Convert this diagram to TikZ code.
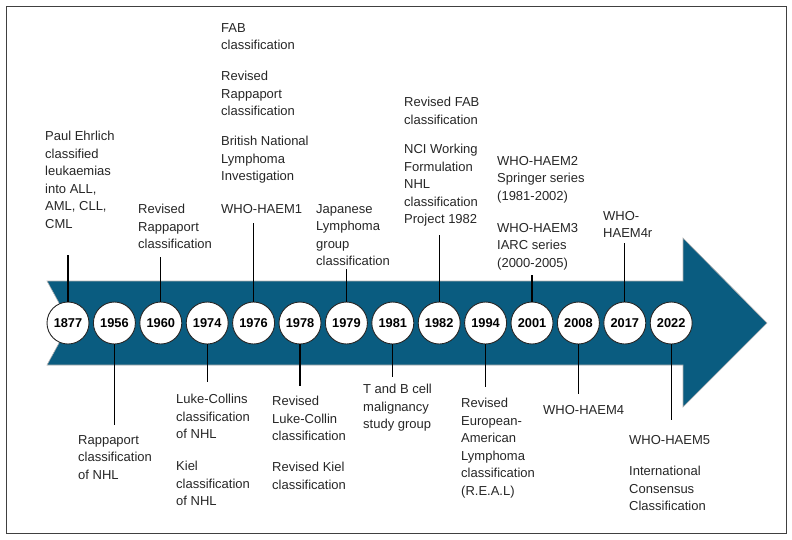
\documentclass[tikz,border=0pt]{standalone}
\usepackage{fontspec}
\setmainfont{Liberation Sans}
\usetikzlibrary{positioning}
\definecolor{arrowblue}{RGB}{10,92,128}

\begin{document}
\begin{tikzpicture}[x=1pt, y=-1pt,
  yearnode/.style={circle, draw=black!85, line width=0.9pt, fill=white,
    minimum size=42pt, inner sep=0pt, font=\bfseries\fontsize{12.8}{13}\selectfont},
  note/.style={anchor=north west, align=left, inner sep=0pt,
    text=black!85, font=\fontsize{13}{17.5}\selectfont},
  stem/.style={line width=1.2pt}]
  \useasboundingbox (0,0) rectangle (792,539);
  % outer frame
  \draw[black!75, line width=0.9pt] (6,6) rectangle (786,533);
  % big arrow
  \filldraw[fill=arrowblue, draw=black!30, line width=0.6pt]
    (47,281) -- (683,281) -- (683,238) -- (767,323) -- (683,407)
    -- (683,365) -- (47,365) -- (70,323) -- cycle;

  % year circles
  \foreach \yr [count=\i from 0] in {1877,1956,1960,1974,1976,1978,1979,1981,1982,1994,2001,2008,2017,2022}
    \node[yearnode] (y\yr) at ({68+46.4*\i},323) {\yr};

  % stems going up
  \foreach \yr/\top in {1877/255,1960/257,1976/223,1979/269,1982/235,2001/275,2017/243} {
    \coordinate (s\yr) at (y\yr |- 0,\top);
    \draw[stem] (y\yr) -- (s\yr);
  }
  % stems going down
  \foreach \yr/\bot in {1956/425,1974/382,1978/386,1981/377,1994/387,2008/394,2022/420} {
    \coordinate (s\yr) at (y\yr |- 0,\bot);
    \draw[stem] (y\yr) -- (s\yr);
  }

  % labels above the arrow
  \node[note] (n1877) at (45,131) {Paul Ehrlich\\classified\\leukaemias\\into ALL,\\AML, CLL,\\CML};
  \node[note] (n1960) at (138,204) {Revised\\Rappaport\\classification};
  \node[note] (n1976a) at (221,23) {FAB\\classification};
  \node[note] (n1976b) at (221,71) {Revised\\Rappaport\\classification};
  \node[note] (n1976c) at (221,136) {British National\\Lymphoma\\Investigation};
  \node[note] (n1976d) at (221,204) {WHO-HAEM1};
  \node[note] (n1979) at (316,204) {Japanese\\Lymphoma\\group\\classification};
  \node[note] (n1982a) at (404,97) {Revised FAB\\classification};
  \node[note] (n1982b) at (404,144) {NCI Working\\Formulation\\NHL\\classification\\Project 1982};
  \node[note] (n2001a) at (497,156) {WHO-HAEM2\\Springer series\\(1981-2002)};
  \node[note] (n2001b) at (497,223) {WHO-HAEM3\\IARC series\\(2000-2005)};
  \node[note] (n2017) at (603,211) {WHO-\\HAEM4r};

  % labels below the arrow
  \node[note] (n1956) at (78,435) {Rappaport\\classification\\of NHL};
  \node[note] (n1974a) at (176,394) {Luke-Collins\\classification\\of NHL};
  \node[note] (n1974b) at (176,461) {Kiel\\classification\\of NHL};
  \node[note] (n1978a) at (272,396) {Revised\\Luke-Collin\\classification};
  \node[note] (n1978b) at (272,462) {Revised Kiel\\classification};
  \node[note] (n1981) at (363,384) {T and B cell\\malignancy\\study group};
  \node[note] (n1994) at (461,398) {Revised\\European-\\American\\Lymphoma\\classification\\(R.E.A.L)};
  \node[note] (n2008) at (543,405) {WHO-HAEM4};
  \node[note] (n2022a) at (629,435) {WHO-HAEM5};
  \node[note] (n2022b) at (629,466) {International\\Consensus\\Classification};
\end{tikzpicture}
\end{document}
